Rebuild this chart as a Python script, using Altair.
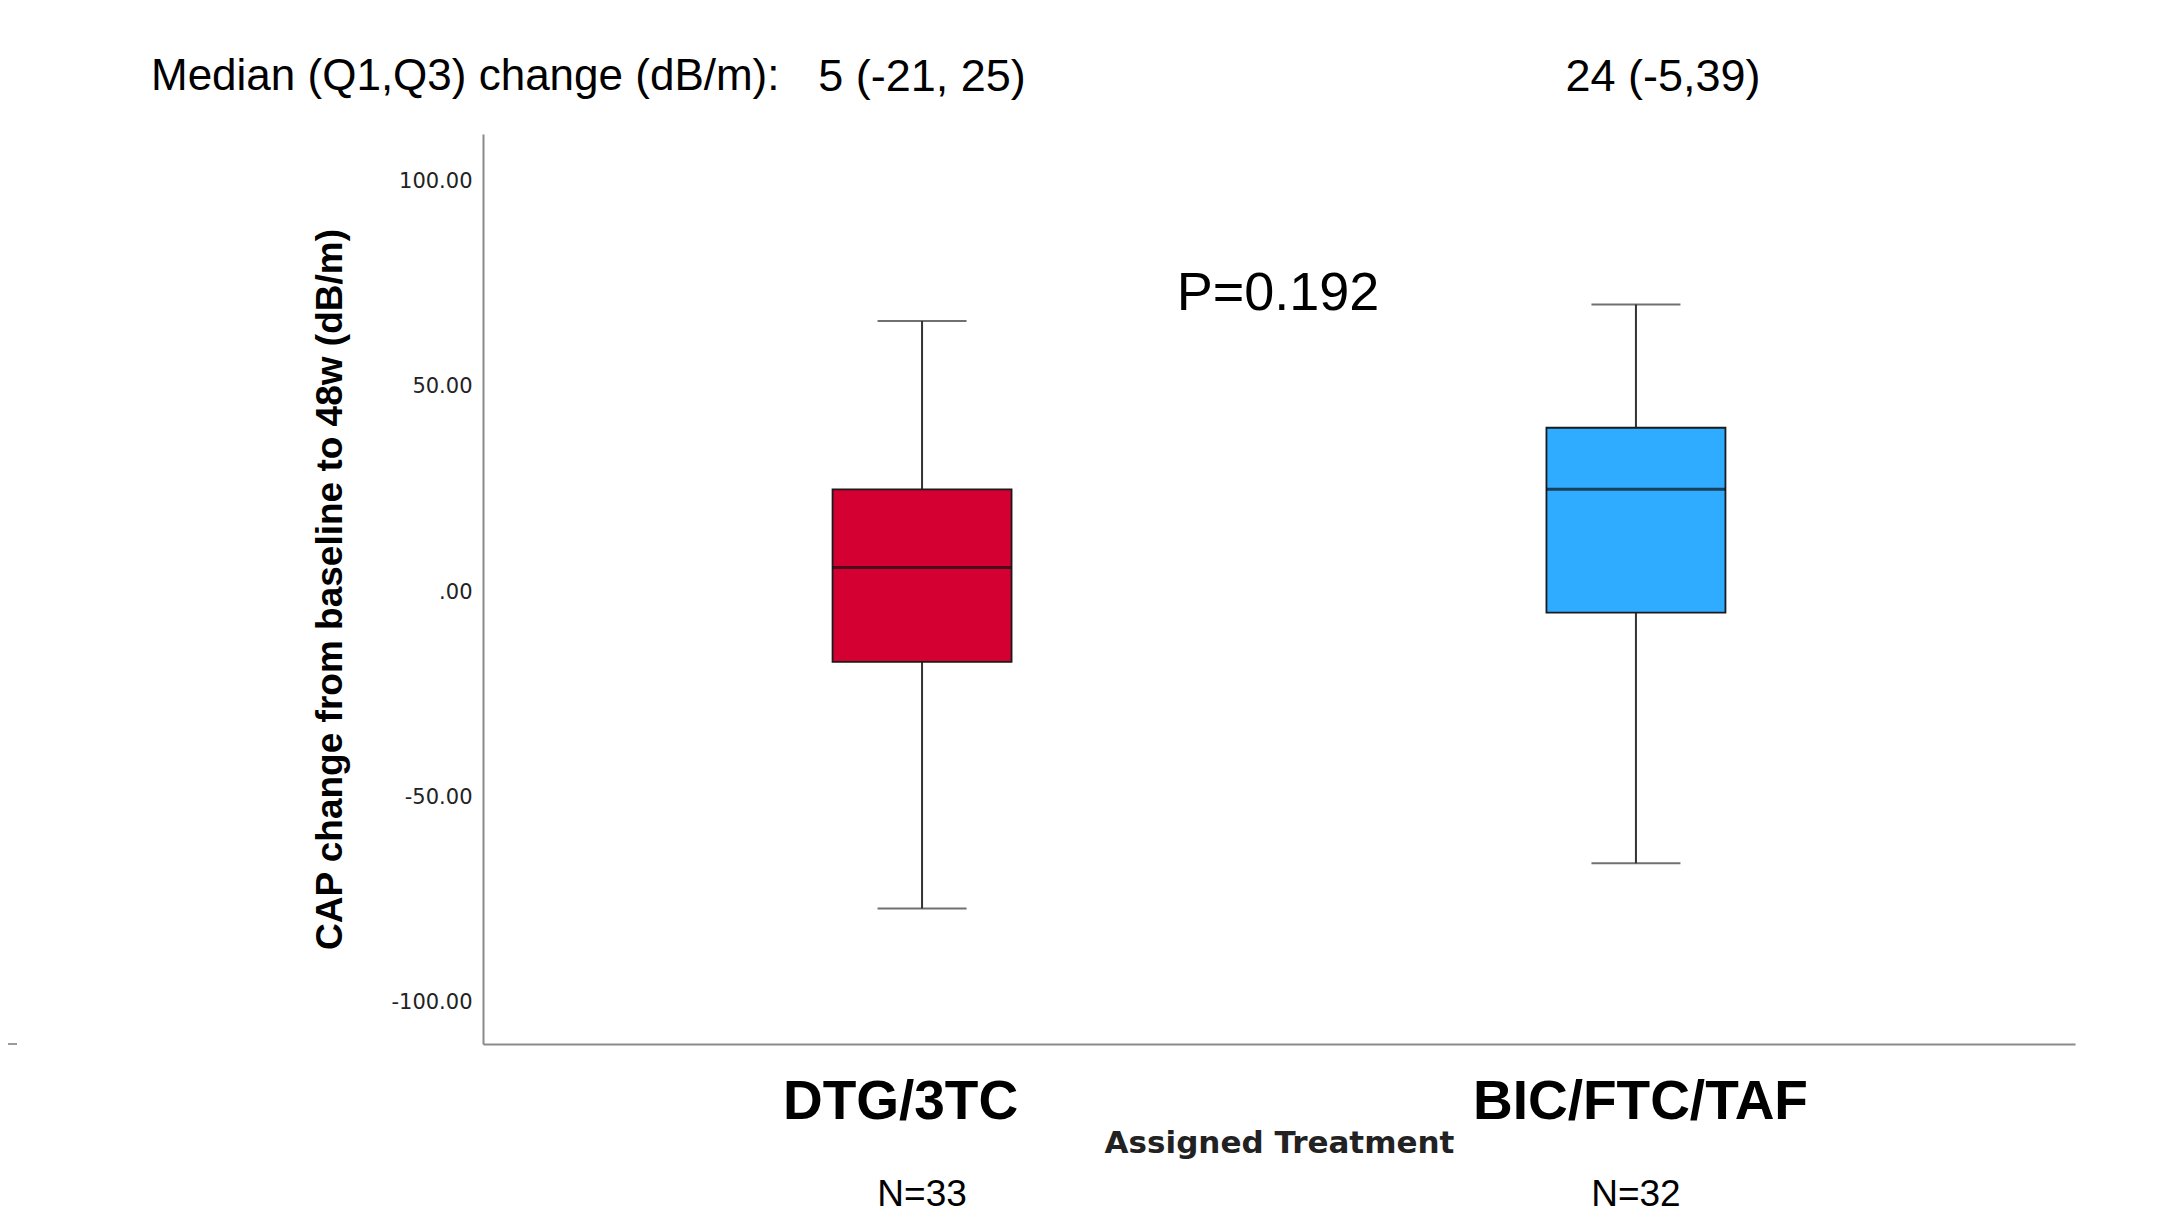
import altair as alt
import pandas as pd

# ---- data ----
groups = ["DTG/3TC", "BIC/FTC/TAF"]
whisker_low = [-77, -66]
q1 = [-17, -5]
median = [6, 25]
q3 = [25, 40]
whisker_high = [66, 70]
box_colors = ["#D50032", "#2FACFF"]
n_labels = ["N=33", "N=32"]
stat_labels = ["5 (-21, 25)", "24 (-5,39)"]
y_ticks = [-100, -50, 0, 50, 100]

df = pd.DataFrame({
    "group": groups,
    "low": whisker_low,
    "q1": q1,
    "median": median,
    "q3": q3,
    "high": whisker_high,
    "n": n_labels,
    "stat": stat_labels,
})

W, H = 1592, 910

x = alt.X(
    "group:N",
    sort=groups,
    scale=alt.Scale(type="point", domain=groups, padding=0.615),
    axis=alt.Axis(
        title="Assigned Treatment",
        labelAngle=0,
        labelLimit=0,
        labelOffset={"condition": {"test": "datum.value == 'DTG/3TC'", "value": -22}, "value": 4},
        ticks=False,
        grid=False,
        domainColor="#8a8a8a",
        domainWidth=2,
        labelFont="Liberation Sans",
        labelFontWeight="bold",
        labelFontSize=55,
        labelColor="black",
        labelPadding=31,
        titleFont="DejaVu Sans",
        titleFontWeight="bold",
        titleFontSize=31,
        titleColor="#222222",
        titleY=99,
        titleBaseline="middle",
    ),
)

yscale = alt.Scale(domain=[-110, 111.5], nice=False, zero=False)

base = alt.Chart(df)

whisker = base.mark_rule(color="#333333", strokeWidth=2).encode(
    x=x,
    y=alt.Y(
        "low:Q",
        scale=yscale,
        axis=alt.Axis(
            title="CAP change from baseline to 48w (dB/m)",
            values=y_ticks,
            labelExpr="datum.value == 0 ? '.00' : replace(format(datum.value, '.2f'), '\u2212', '-')",
            ticks=False,
            grid=False,
            domainColor="#8a8a8a",
            domainWidth=2,
            labelFont="DejaVu Sans",
            labelFontSize=21,
            labelColor="#222222",
            labelPadding=11,
            titleFont="Liberation Sans",
            titleFontWeight="bold",
            titleFontSize=37,
            titleColor="black",
            titleX=-153,
            titleY=H / 2,
            titleAlign="center",
            titleBaseline="middle",
        ),
    ),
    y2="high:Q",
)

caps_low = base.mark_tick(orient="horizontal", size=89, thickness=2, color="#333333").encode(
    x=x, y=alt.Y("low:Q", scale=yscale)
)
caps_high = base.mark_tick(orient="horizontal", size=89, thickness=2, color="#333333").encode(
    x=x, y=alt.Y("high:Q", scale=yscale)
)

boxes = base.mark_bar(size=179, stroke="#1a1a1a", strokeWidth=1.8).encode(
    x=x,
    y=alt.Y("q1:Q", scale=yscale),
    y2="q3:Q",
    color=alt.Color("group:N", scale=alt.Scale(domain=groups, range=box_colors), legend=None),
)

med = base.mark_tick(orient="horizontal", size=179, thickness=3, color="#111111").encode(
    x=x, y=alt.Y("median:Q", scale=yscale)
)

n_text = base.mark_text(font="Liberation Sans", fontSize=37, color="black", baseline="middle").encode(
    x=x, y=alt.value(1061), text="n:N"
)

stat1 = base.transform_filter(alt.datum.group == groups[0]).mark_text(
    font="Liberation Sans", fontSize=45, color="black", baseline="middle"
).encode(x=x, y=alt.value(-57), text="stat:N")

stat2 = base.transform_filter(alt.datum.group == groups[1]).mark_text(
    font="Liberation Sans", fontSize=45, color="black", baseline="middle", dx=27
).encode(x=x, y=alt.value(-57), text="stat:N")

median_label = alt.Chart(pd.DataFrame({"t": ["Median (Q1,Q3) change (dB/m):"]})).mark_text(
    font="Liberation Sans", fontSize=44, color="black", align="left", baseline="middle"
).encode(x=alt.value(-332), y=alt.value(-57), text="t:N")

p_label = alt.Chart(pd.DataFrame({"t": ["P=0.192"]})).mark_text(
    font="Liberation Sans", fontSize=54, color="black", align="center", baseline="middle"
).encode(x=alt.value(795), y=alt.value(160), text="t:N")

stub = alt.Chart(pd.DataFrame({"a": [0]})).mark_rule(color="#9a9a9a", strokeWidth=2).encode(
    x=alt.value(-475), x2=alt.value(-466), y=alt.value(H)
)

chart = alt.layer(
    whisker, caps_low, caps_high, boxes, med, n_text, stat1, stat2, median_label, p_label, stub
).properties(
    width=W,
    height=H,
    background="white",
    autosize=alt.AutoSizeParams(type="none"),
    padding={"left": 475, "top": 126, "right": 75, "bottom": 174},
).configure_view(strokeWidth=0, stroke=None)

chart.save("out.html", embed_options={"renderer": "svg", "actions": False})
